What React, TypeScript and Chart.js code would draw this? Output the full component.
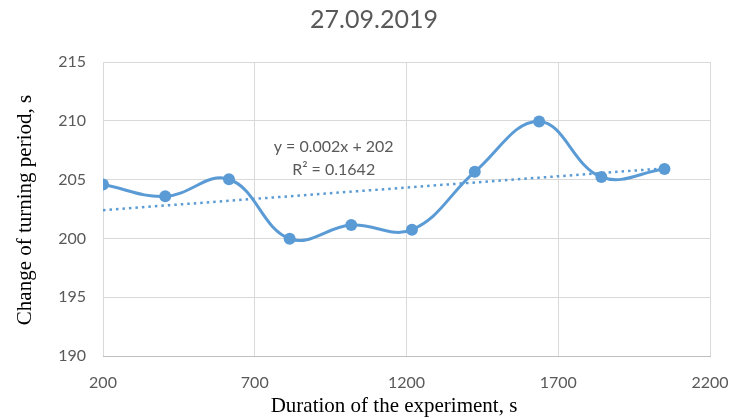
import React, { useEffect, useRef } from "react";
import { Chart, registerables } from "chart.js";

Chart.register(...registerables);

const chartTitle = "27.09.2019";
const xAxisTitle = "Duration of the experiment, s";
const yAxisTitle = "Change of turning period, s";
const durations = [200, 405, 615, 815, 1018, 1218, 1425, 1637, 1842, 2050];
const periods = [204.58, 203.58, 205.03, 199.97, 201.13, 200.74, 205.66, 209.94, 205.22, 205.9];
const trendLabel = ["y = 0.002x + 202", "R\u00B2 = 0.1642"];
const xTicks = [200, 700, 1200, 1700, 2200];
const yTicks = [190, 195, 200, 205, 210, 215];

const BLUE = "#5B9BD5";
const GRAY = "#595959";
const SANS = "Lato, 'Open Sans', sans-serif";
const SERIF = "'Liberation Serif', 'Times New Roman', serif";

function regression(xs: number[], ys: number[]) {
  const n = xs.length;
  const mx = xs.reduce((a, b) => a + b, 0) / n;
  const my = ys.reduce((a, b) => a + b, 0) / n;
  let sxy = 0, sxx = 0;
  for (let i = 0; i < n; i++) {
    sxy += (xs[i] - mx) * (ys[i] - my);
    sxx += (xs[i] - mx) * (xs[i] - mx);
  }
  const slope = sxy / sxx;
  return { slope, intercept: my - slope * mx };
}

export default function App() {
  const ref = useRef<HTMLCanvasElement | null>(null);

  useEffect(() => {
    document.body.style.margin = "0";
    const canvas = ref.current;
    if (!canvas) return;
    const { slope, intercept } = regression(durations, periods);
    const first = durations[0];
    const last = durations[durations.length - 1];

    const textPlugin = {
      id: "texts",
      afterDatasetsDraw(chart: any) {
        const { ctx, scales } = chart;
        const cx = scales.x.getPixelForValue(960);
        const y1 = scales.y.getPixelForValue(207.76);
        const y2 = scales.y.getPixelForValue(205.87);
        ctx.save();
        ctx.fillStyle = GRAY;
        ctx.font = `16px ${SANS}`;
        ctx.textAlign = "center";
        ctx.textBaseline = "middle";
        ctx.fillText(trendLabel[0], cx, y1);
        ctx.fillText(trendLabel[1], cx, y2);
        ctx.restore();
      },
      afterDraw(chart: any) {
        const { ctx } = chart;
        ctx.save();
        ctx.textAlign = "center";
        ctx.textBaseline = "middle";
        ctx.fillStyle = GRAY;
        ctx.font = `25px ${SANS}`;
        ctx.fillText(chartTitle, 374, 20);
        ctx.fillStyle = "#000";
        ctx.font = `21px ${SERIF}`;
        ctx.fillText(xAxisTitle, 394, 406);
        ctx.translate(25, 210);
        ctx.rotate(-Math.PI / 2);
        ctx.fillText(yAxisTitle, 0, 0);
        ctx.restore();
      },
    };

    const chart = new Chart(canvas, {
      type: "scatter",
      data: {
        datasets: [
          {
            label: "trend",
            data: [
              { x: first, y: slope * first + intercept },
              { x: last, y: slope * last + intercept },
            ],
            showLine: true,
            borderColor: BLUE,
            borderWidth: 2.5,
            borderDash: [2.5, 4],
            pointRadius: 0,
            order: 2,
          },
          {
            label: "data",
            data: durations.map((x, i) => ({ x, y: periods[i] })),
            showLine: true,
            borderColor: BLUE,
            backgroundColor: BLUE,
            borderWidth: 3,
            tension: 0.4,
            pointRadius: 6,
            pointBorderWidth: 0,
            order: 1,
          },
        ],
      },
      options: {
        animation: false,
        responsive: false,
        maintainAspectRatio: false,
        layout: { padding: { left: 0, right: 21, top: 62, bottom: 0 } },
        plugins: {
          legend: { display: false },
          tooltip: { enabled: false },
          title: { display: false },
        },
        scales: {
          x: {
            type: "linear",
            min: 200,
            max: 2200,
            afterBuildTicks: (s: any) => {
              s.ticks = xTicks.map((v) => ({ value: v }));
            },
            afterFit: (s: any) => {
              s.height = 62;
              s.paddingLeft = 0;
              s.paddingRight = 0;
            },
            grid: { color: "#d9d9d9", drawTicks: false, lineWidth: 1 },
            border: { color: "#bfbfbf" },
            ticks: {
              color: GRAY,
              font: { family: SANS, size: 16 },
              padding: 17,
              callback: (v: any) => String(v),
            },
          },
          y: {
            type: "linear",
            min: 190,
            max: 215,
            afterBuildTicks: (s: any) => {
              s.ticks = yTicks.map((v) => ({ value: v }));
            },
            afterFit: (s: any) => {
              s.width = 103;
              s.paddingTop = 0;
              s.paddingBottom = 0;
            },
            grid: { color: "#d9d9d9", drawTicks: false, lineWidth: 1 },
            border: { display: false },
            ticks: {
              color: GRAY,
              font: { family: SANS, size: 16 },
              padding: 17,
              callback: (v: any) => String(v),
            },
          },
        },
      },
      plugins: [textPlugin],
    } as any);
    return () => chart.destroy();
  }, []);

  return (
    <div style={{ width: 731, height: 418, background: "#fff" }}>
      <canvas ref={ref} width={731} height={418} style={{ width: 731, height: 418, display: "block" }} />
    </div>
  );
}
